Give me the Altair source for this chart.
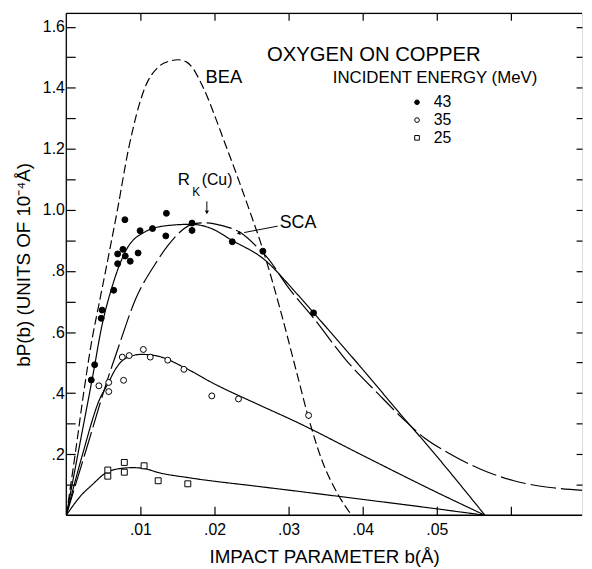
import altair as alt
import pandas as pd

FONT = "Liberation Sans"

# ---------------- data ----------------
# measured points, impact parameter b (Å) and bP(b) (10^-4 Å)
e43_b = [0.00337, 0.00383, 0.00471, 0.00484, 0.0064, 0.00693, 0.00693, 0.00764, 0.00791,
         0.00796, 0.00863, 0.00969, 0.00996, 0.01164, 0.01343, 0.01351, 0.01697, 0.01697,
         0.0224, 0.02653, 0.03337]
e43_p = [0.443, 0.493, 0.645, 0.672, 0.737, 0.824, 0.856, 0.871, 0.968,
         0.849, 0.832, 0.859, 0.932, 0.939, 0.915, 0.989, 0.957, 0.933,
         0.896, 0.865, 0.663]

e35_b = [0.0044, 0.00573, 0.00573, 0.00756, 0.00849, 0.00773, 0.0104, 0.01133, 0.01369,
         0.01587, 0.01964, 0.02324, 0.0327]
e35_p = [0.424, 0.435, 0.405, 0.518, 0.523, 0.442, 0.543, 0.518, 0.508,
         0.478, 0.391, 0.381, 0.327]

e25_b = [0.0056, 0.0056, 0.00783, 0.00783, 0.0105, 0.0124, 0.0164]
e25_p = [0.148, 0.128, 0.173, 0.141, 0.162, 0.113, 0.103]

energies = ["43", "35", "25"]

# theory curves
bea_b = [0, 0.0012, 0.0024, 0.0035, 0.0044, 0.0053, 0.0069, 0.0084, 0.0106, 0.0125, 0.0140,
         0.0151, 0.0162, 0.0172, 0.0181, 0.0217, 0.0247, 0.0266, 0.0288, 0.0311, 0.0326,
         0.0345, 0.0364, 0.0385]
bea_p = [0, 0.20, 0.41, 0.58, 0.69, 0.80, 1.00, 1.20, 1.40, 1.47, 1.488,
         1.492, 1.485, 1.46, 1.42, 1.20, 1.00, 0.865, 0.68, 0.467, 0.327,
         0.18, 0.08, 0]

sca_b = [0, 0.003, 0.0055, 0.0071, 0.0093, 0.012, 0.0137, 0.0155, 0.0173, 0.0188, 0.0213,
         0.0235, 0.0257, 0.0271, 0.030, 0.0333, 0.0377, 0.0422, 0.0457, 0.0484, 0.0515,
         0.056, 0.0604, 0.0653, 0.0700]
sca_p = [0, 0.24, 0.44, 0.555, 0.705, 0.823, 0.883, 0.931, 0.955, 0.958, 0.947,
         0.926, 0.88, 0.845, 0.745, 0.648, 0.51, 0.395, 0.31, 0.252, 0.205,
         0.15, 0.113, 0.091, 0.081]

fit43_b = [0, 0.0018, 0.0036, 0.0048, 0.0062, 0.0080, 0.0106, 0.0137, 0.0168, 0.0195, 0.0224,
           0.0266, 0.0311, 0.0355, 0.0400, 0.0457, 0.0480, 0.0565]
fit43_p = [0, 0.23, 0.46, 0.62, 0.75, 0.865, 0.928, 0.949, 0.953, 0.94, 0.90,
           0.84, 0.726, 0.604, 0.478, 0.314, 0.25, 0]

fit35_b = [0, 0.0022, 0.0045, 0.0056, 0.0066, 0.008, 0.0102, 0.0124, 0.016, 0.020, 0.0257,
           0.0311, 0.040, 0.050, 0.0565]
fit35_p = [0, 0.20, 0.38, 0.43, 0.477, 0.514, 0.527, 0.521, 0.483, 0.43, 0.365,
           0.305, 0.196, 0.075, 0]

fit25_b = [0, 0.002, 0.0035, 0.0053, 0.007, 0.009, 0.0105, 0.0124, 0.0168, 0.0257, 0.0311,
           0.040, 0.050, 0.0565]
fit25_p = [0, 0.065, 0.10, 0.138, 0.152, 0.156, 0.153, 0.14, 0.122, 0.095, 0.079,
           0.052, 0.021, 0]

x_ticks = [0.01, 0.02, 0.03, 0.04, 0.05, 0.06]
y_ticks = [round(0.1 * i, 1) for i in range(1, 17)]

# ---------------- tables ----------------
curve_names = ["BEA", "SCA", "fit43", "fit35", "fit25"]
curve_sets = [(bea_b, bea_p), (sca_b, sca_p), (fit43_b, fit43_p), (fit35_b, fit35_p), (fit25_b, fit25_p)]
curves = pd.concat(
    [pd.DataFrame({"b": bb, "p": pp, "curve": n}) for n, (bb, pp) in zip(curve_names, curve_sets)],
    ignore_index=True,
)

points = pd.concat(
    [
        pd.DataFrame({"b": e43_b, "p": e43_p, "energy": "43"}),
        pd.DataFrame({"b": e35_b, "p": e35_p, "energy": "35"}),
        pd.DataFrame({"b": e25_b, "p": e25_p, "energy": "25"}),
    ],
    ignore_index=True,
)

labels = pd.DataFrame({
    "b": [0.02707, 0.03596, 0.0188, 0.01505, 0.01700, 0.01827, 0.0288],
    "p": [1.508, 1.4306, 1.435, 1.097, 1.058, 1.097, 0.9566],
    "text": ["OXYGEN  ON  COPPER", "INCIDENT  ENERGY (MeV)", "BEA", "R", "K", "(Cu)", "SCA"],
    "fs": [20.5, 17, 18.5, 17, 12, 16, 18],
})

arrow_lines = pd.DataFrame({
    "b": [0.01897, 0.02853], "p": [1.028, 0.947],
    "b2": [0.01897, 0.02400], "p2": [0.998, 0.926],
})
arrow_heads = pd.DataFrame({
    "b": [0.01897, 0.02333], "p": [0.994, 0.924], "ang": [180, 260],
})

xs = alt.Scale(domain=[0, 0.0696], nice=False, zero=False)
ys = alt.Scale(domain=[0, 1.644], nice=False, zero=False)

bottom_axis = alt.Axis(
    orient="bottom", values=x_ticks, offset=-9, tickSize=9, tickWidth=1.2, tickColor="black",
    domain=False, grid=False, labelPadding=6, labelFontSize=16, labelFont=FONT, labelColor="black",
    labelExpr="datum.value > 0.055 ? '' : replace(format(datum.value, '.2f'), '0.', '.')",
    labelOverlap=False, labelFlush=False,
    title="IMPACT  PARAMETER  b(Å)", titleFont=FONT, titleFontSize=19, titleFontWeight="normal",
    titleColor="black", titlePadding=11,
)
left_axis = alt.Axis(
    orient="left", values=y_ticks, offset=-9, tickSize=9, tickWidth=1.2, tickColor="black",
    domain=False, grid=False, labelPadding=2, labelFontSize=16, labelFont=FONT, labelColor="black",
    labelExpr="(round(datum.value*10) % 2 == 1) ? '' : (datum.value < 0.95 ? replace(format(datum.value, '.1f'), '0.', '.') : format(datum.value, '.1f'))",
    labelOverlap=False, labelFlush=False,
    title="bP(b)  (UNITS OF 10⁻⁴Å)", titleFont=FONT, titleFontSize=19, titleFontWeight="normal",
    titleColor="black", titlePadding=9,
)
top_axis = alt.Axis(orient="top", values=x_ticks, offset=-7, tickSize=7, tickWidth=1.2,
                    tickColor="black", domain=False, grid=False, labels=False, title=None)
right_axis = alt.Axis(orient="right", values=y_ticks, offset=-6, tickSize=6, tickWidth=1.2,
                      tickColor="black", domain=False, grid=False, labels=False, title=None)

lines = alt.Chart(curves).mark_line(color="black", strokeWidth=1.2, interpolate="monotone", clip=True).encode(
    x=alt.X("b:Q", scale=xs, axis=bottom_axis),
    y=alt.Y("p:Q", scale=ys, axis=left_axis),
    detail="curve:N",
    strokeDash=alt.StrokeDash(
        "curve:N",
        scale=alt.Scale(domain=curve_names, range=[[9, 4], [26, 5], [1, 0], [1, 0], [1, 0]]),
        legend=None,
    ),
)

leg = dict(
    orient="none", legendX=347, legendY=82, title=None, labelFont=FONT, labelFontSize=16,
    labelColor="black", symbolSize=22, symbolStrokeWidth=1,
    rowPadding=2, labelOffset=9, padding=0,
)

pts = alt.Chart(points).mark_point(filled=True, strokeWidth=1, opacity=1, size=36).encode(
    x=alt.X("b:Q", scale=xs, axis=top_axis),
    y=alt.Y("p:Q", scale=ys, axis=right_axis),
    shape=alt.Shape("energy:N", scale=alt.Scale(domain=energies, range=["circle", "circle", "square"]),
                    legend=alt.Legend(**leg)),
    fill=alt.Fill("energy:N", scale=alt.Scale(domain=energies, range=["black", "white", "white"]),
                  legend=alt.Legend(**leg)),
    stroke=alt.Stroke("energy:N", scale=alt.Scale(domain=energies, range=["black", "black", "black"]),
                      legend=alt.Legend(**leg)),
)

frame_left = alt.Chart(pd.DataFrame({"b": [0.0]})).mark_rule(color="black", strokeWidth=1.3).encode(
    x=alt.X("b:Q", scale=xs, axis=None))
frame_h = alt.Chart(pd.DataFrame({"p": [0.0, 1.644]})).mark_rule(color="black", strokeWidth=1.3).encode(
    y=alt.Y("p:Q", scale=ys, axis=None))

texts = alt.Chart(labels).mark_text(align="left", baseline="middle", font=FONT, color="black").encode(
    x=alt.X("b:Q", scale=xs, axis=None),
    y=alt.Y("p:Q", scale=ys, axis=None),
    text="text:N",
    size=alt.Size("fs:Q", scale=None, legend=None),
)

arrows = alt.Chart(arrow_lines).mark_rule(color="black", strokeWidth=1).encode(
    x=alt.X("b:Q", scale=xs, axis=None), y=alt.Y("p:Q", scale=ys, axis=None),
    x2="b2:Q", y2="p2:Q",
)
heads = alt.Chart(arrow_heads).mark_point(shape="triangle", filled=True, color="black", size=18, opacity=1).encode(
    x=alt.X("b:Q", scale=xs, axis=None), y=alt.Y("p:Q", scale=ys, axis=None),
    angle=alt.Angle("ang:Q", scale=None),
)

chart = (
    alt.layer(lines, pts, frame_left, frame_h, texts, arrows, heads)
    .resolve_axis(x="independent", y="independent")
    .properties(
        width=522, height=508,
        autosize=alt.AutoSizeParams(type="none"),
        padding={"left": 59, "top": 2, "right": 2, "bottom": 52},
    )
    .configure_view(stroke=None)
    .configure(background="white")
)

chart.save("out.html", embed_options={"renderer": "svg", "actions": False})
